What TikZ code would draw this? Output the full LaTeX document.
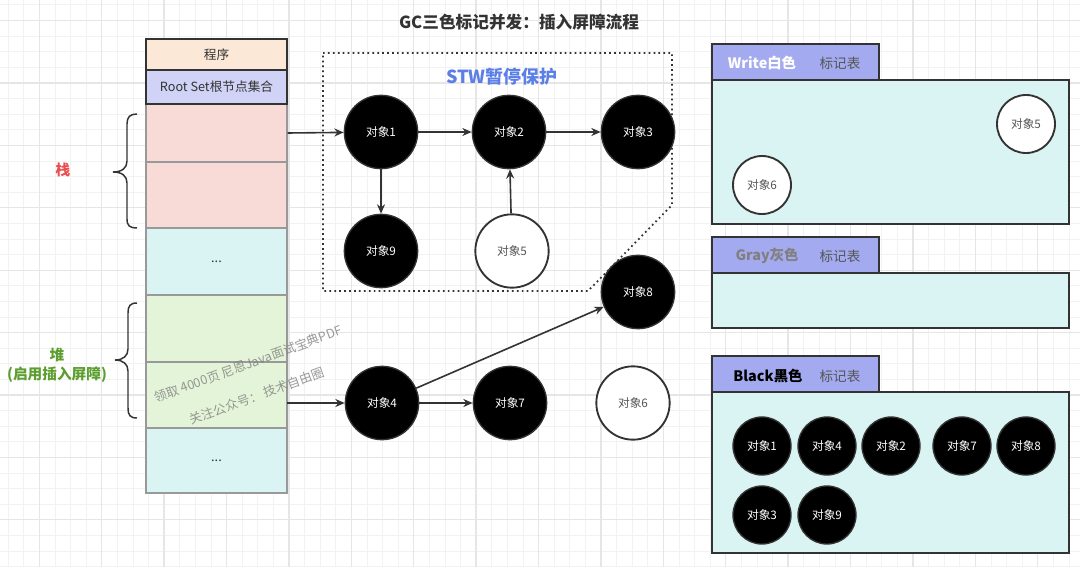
\documentclass[tikz,border=0pt]{standalone}
\usepackage{fontspec}
\setmainfont{Noto Sans CJK SC}
\usetikzlibrary{positioning, arrows.meta}

\definecolor{inkgray}{HTML}{333333}
\definecolor{softgray}{HTML}{555555}
\definecolor{cellpeach}{HTML}{FCE8D6}
\definecolor{cellroot}{HTML}{D0D3F6}
\definecolor{cellpink}{HTML}{F8DAD7}
\definecolor{cellcyan}{HTML}{DAF3F3}
\definecolor{cellgreen}{HTML}{E3F4D8}
\definecolor{tabblue}{HTML}{A3AAF0}
\definecolor{stackred}{HTML}{EA4D4D}
\definecolor{heapgreen}{HTML}{5C9E2F}
\definecolor{stwblue}{HTML}{5B7FE6}
\definecolor{gridlo}{HTML}{F2F2F2}
\definecolor{gridhi}{HTML}{E6E6E6}

\begin{document}
\begin{tikzpicture}[x=0.75pt,y=-0.75pt]\tikzset{>={Stealth[length=7pt,width=6pt]},
  gridminor/.style={gridlo, line width=0.75pt},
  gridmajor/.style={gridhi, line width=1pt},
  cell/.style={draw=gray!80, line width=0.9pt, minimum width=105.75pt, inner sep=0pt, text=inkgray, font=\fontsize{9.5pt}{11pt}\selectfont},
  topcell/.style={cell, draw=inkgray, line width=1.3pt},
  blackobj/.style={circle, fill=black, draw=inkgray, line width=1pt, minimum size=55pt, inner sep=0pt, text=white, font=\fontsize{8.8pt}{10pt}\selectfont},
  whiteobj/.style={blackobj, fill=white, line width=1.4pt, text=softgray},
  smallblack/.style={blackobj, minimum size=43.5pt},
  smallwhite/.style={whiteobj, minimum size=43.5pt},
  link/.style={->, draw=inkgray, line width=1.2pt},
  tabbox/.style={draw=inkgray, fill=tabblue, line width=1.2pt, minimum width=125.25pt, minimum height=27pt, inner sep=0pt},
  tablebody/.style={draw=inkgray, fill=cellcyan, line width=1.2pt, minimum width=267.75pt, inner sep=0pt},
  tabtitle/.style={font=\fontsize{10.8pt}{12pt}\selectfont\bfseries, inner sep=0pt},
  tabmark/.style={font=\fontsize{10.2pt}{12pt}\selectfont, text=softgray, inner sep=0pt},
  bracestyle/.style={draw=inkgray, line width=1.1pt},
  sidelabel/.style={font=\fontsize{11pt}{14pt}\selectfont\bfseries, align=center, inner sep=0pt},
  watermark/.style={font=\fontsize{9.5pt}{11pt}\selectfont, text=gray, opacity=0.8, rotate=20, inner sep=0pt},
}
	\useasboundingbox (0,0) rectangle (1080,567);
	\fill[white] (0,0) rectangle (1080,567);
	\foreach \k in {0,...,69} \draw[gridminor] ({8.3+15.6*\k},0) -- ++(0,567);
	\foreach \k in {0,...,36} \draw[gridminor] (0,{5+15.6*\k}) -- ++(1080,0);
	\foreach \k in {0,...,16} \draw[gridmajor] ({39.3+62.4*\k},0) -- ++(0,567);
	\foreach \k in {0,...,8} \draw[gridmajor] (0,{20.6+62.4*\k}) -- ++(1080,0);

	\node[font=\fontsize{12.5pt}{14pt}\selectfont\bfseries, text=inkgray] (title) at (519,22) {GC三色标记并发：插入屏障流程};

	% stack column
	\node[cell, fill=cellpink, minimum height=43.5pt] (pink1) at (216.5,133) {};
	\node[cell, fill=cellpink, minimum height=49.5pt] (pink2) at (216.5,195) {};
	\node[cell, fill=cellcyan, minimum height=50.25pt] (cyan1) at (216.5,261.5) {...};
	\node[cell, fill=cellgreen, minimum height=50.25pt] (green1) at (216.5,328.5) {};
	\node[cell, fill=cellgreen, minimum height=49.5pt] (green2) at (216.5,395) {};
	\node[cell, fill=cellcyan, minimum height=48.75pt] (cyan2) at (216.5,460.5) {...};
	\node[topcell, fill=cellpeach, minimum height=23.25pt] (prog) at (216.5,54.5) {程序};
	\node[topcell, fill=cellroot, minimum height=25.5pt] (root) at (216.5,87) {Root Set根节点集合};

	\draw[bracestyle] (137,114) .. controls (130,114) and (127,117) .. (127,124) -- (127,161) .. controls (127,168) and (122,172) .. (113,172) .. controls (122,172) and (127,176) .. (127,183) -- (127,219) .. controls (127,226) and (130,228) .. (137,228);
	\draw[bracestyle] (137,303) .. controls (130,303) and (128,306) .. (128,313) -- (128,349) .. controls (128,356) and (123,360) .. (115,360) .. controls (123,360) and (128,364) .. (128,371) -- (128,408) .. controls (128,415) and (130,418) .. (137,418);
	\node[sidelabel, text=stackred] (stacklbl) at (63,170) {栈};
	\node[sidelabel, text=heapgreen] (heaplbl) at (57,365) {堆\\(启用插入屏障)};

	\node[watermark] (wm1) at (248,364) {领取 4000页 尼恩Java面试宝典PDF};
	\node[watermark] (wm2) at (257,396) {关注公众号：\ 技术自由圈};

	% STW area
	\draw[inkgray, line width=1.3pt, dash pattern=on 1.3pt off 2.4pt] (323,53) -- (672,53) -- (672,205) -- (588,291) -- (323,291) -- cycle;
	\node[font=\fontsize{13.5pt}{15pt}\selectfont\bfseries, text=stwblue] (stw) at (502,77) {STW暂停保护};

	\node[blackobj] (o1) at (381,132) {对象1};
	\node[blackobj] (o2) at (509,132) {对象2};
	\node[blackobj] (o3) at (638,132) {对象3};
	\node[blackobj] (o9) at (381,251) {对象9};
	\node[whiteobj] (o5) at (512,251) {对象5};
	\node[blackobj] (o8) at (638,292) {对象8};
	\node[blackobj] (o4) at (382,403) {对象4};
	\node[blackobj] (o7) at (510,403) {对象7};
	\node[whiteobj] (o6) at (633,403) {对象6};

	\coordinate (heapout) at (287,403);
	\path (pink1.east) edge[link] (o1);
	\path (heapout) edge[link] (o4);
	\path (o1) edge[link] (o2);
	\path (o2) edge[link] (o3);
	\path (o1) edge[link] (o9);
	\path (o5) edge[link] (o2);
	\path (o4) edge[link] (o7);
	\path (o4) edge[link] (o8);

	% mark tables
	\node[tablebody, minimum height=108pt] (wbody) at (890.5,152) {};
	\node[tabbox] (wtab) at (795.5,62) {};
	\node[tabtitle, text=white] (wtitle) at (762,63) {Write白色};
	\node[tabmark] (wmark) at (840,63) {标记表};
	\node[smallwhite] (w5) at (1026,124) {对象5};
	\node[smallwhite] (w6) at (762,185) {对象6};

	\node[tablebody, minimum height=41.25pt] (gbody) at (890.5,300.5) {};
	\node[tabbox] (gtab) at (795.5,255) {};
	\node[tabtitle, text=gray] (gtitle) at (767,256) {Gray灰色};
	\node[tabmark] (gmark) at (840,256) {标记表};

	\node[tablebody, minimum height=120.75pt] (bbody) at (890.5,472.5) {};
	\node[tabbox] (btab) at (795.5,374) {};
	\node[tabtitle, text=black] (btitle) at (768,376) {Black黑色};
	\node[tabmark] (bmark) at (840,376) {标记表};
	\node[smallblack] (b1) at (762,446) {对象1};
	\node[smallblack] (b4) at (827,446) {对象4};
	\node[smallblack] (b2) at (891,446) {对象2};
	\node[smallblack] (b7) at (962,446) {对象7};
	\node[smallblack] (b8) at (1026,446) {对象8};
	\node[smallblack] (b3) at (762,515) {对象3};
	\node[smallblack] (b9) at (827,515) {对象9};
\end{tikzpicture}
\end{document}
